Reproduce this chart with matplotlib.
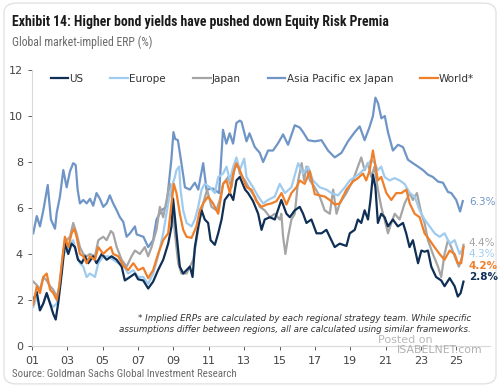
import matplotlib
matplotlib.use("Agg")
import matplotlib.pyplot as plt
from matplotlib.patches import FancyBboxPatch

# --- data ---
us_x = [2001.07, 2001.27, 2001.45, 2001.64, 2001.83, 2002.02, 2002.20, 2002.34, 2002.48, 2002.68,
        2002.86, 2003.05, 2003.24, 2003.43, 2003.60, 2003.81, 2004.00, 2004.18, 2004.46, 2004.65,
        2004.94, 2005.22, 2005.50, 2005.79, 2006.07, 2006.25, 2006.54, 2006.82, 2007.00, 2007.29,
        2007.57, 2007.85, 2008.13, 2008.42, 2008.70, 2008.89, 2008.98, 2009.17, 2009.36, 2009.55,
        2009.74, 2009.93, 2010.08, 2010.21, 2010.40, 2010.59, 2010.77, 2010.96, 2011.10, 2011.34,
        2011.53, 2011.72, 2011.90, 2012.19, 2012.38, 2012.56, 2012.75, 2013.05, 2013.22, 2013.50,
        2013.79, 2013.98, 2014.16, 2014.45, 2014.73, 2015.10, 2015.39, 2015.58, 2015.86, 2016.14,
        2016.33, 2016.52, 2016.80, 2017.09, 2017.37, 2017.65, 2017.93, 2018.12, 2018.40, 2018.78,
        2018.97, 2019.25, 2019.43, 2019.62, 2019.81, 2020.00, 2020.14, 2020.28, 2020.42, 2020.56,
        2020.75, 2020.94, 2021.13, 2021.41, 2021.69, 2021.98, 2022.16, 2022.35, 2022.54, 2022.83,
        2023.02, 2023.20, 2023.39, 2023.58, 2023.85, 2024.14, 2024.33, 2024.62, 2024.90, 2025.08,
        2025.24, 2025.40]
us_y = [2.0, 2.35, 1.55, 1.85, 2.3, 1.85, 1.4, 1.15, 1.85, 3.15,
        4.45, 4.0, 4.45, 4.3, 3.75, 3.6, 3.9, 3.6, 3.9, 3.6,
        4.0, 3.75, 3.9, 3.75, 3.45, 2.85, 3.0, 3.15, 2.9, 2.85,
        2.5, 2.8, 3.3, 3.75, 4.45, 5.2, 6.4, 4.9, 3.45, 3.15,
        3.3, 3.45, 3.0, 4.3, 5.2, 5.9, 5.5, 5.35, 4.6, 4.4,
        4.9, 5.5, 6.35, 6.65, 6.35, 7.2, 7.35, 6.8, 6.65, 6.3,
        5.75, 5.05, 5.5, 5.6, 5.5, 6.35, 5.75, 5.6, 5.9, 6.05,
        5.75, 5.35, 5.5, 4.9, 4.9, 5.05, 4.6, 4.3, 4.45, 4.35,
        4.9, 5.05, 5.5, 5.35, 5.9, 5.5, 6.35, 7.45, 6.9, 5.35,
        5.75, 5.6, 5.2, 5.5, 5.2, 5.35, 4.9, 4.3, 4.6, 3.6,
        4.15, 4.1, 4.15, 3.45, 3.0, 2.85, 2.6, 2.95, 2.6, 2.15,
        2.3, 2.8]

europe_x = [2001.07, 2001.27, 2001.45, 2001.64, 2001.83, 2002.02, 2002.20, 2002.40, 2002.58, 2002.77,
            2002.96, 2003.15, 2003.33, 2003.52, 2003.71, 2003.90, 2004.09, 2004.28, 2004.56, 2004.75,
            2005.03, 2005.31, 2005.59, 2005.88, 2006.16, 2006.44, 2006.73, 2007.00, 2007.29, 2007.57,
            2007.85, 2008.13, 2008.42, 2008.70, 2008.89, 2009.08, 2009.17, 2009.32, 2009.40, 2009.55,
            2009.74, 2010.02, 2010.21, 2010.40, 2010.59, 2010.77, 2011.06, 2011.34, 2011.53, 2011.81,
            2012.00, 2012.19, 2012.38, 2012.56, 2012.75, 2013.00, 2013.13, 2013.50, 2013.79, 2014.07,
            2014.35, 2014.73, 2015.01, 2015.30, 2015.67, 2016.05, 2016.33, 2016.61, 2016.89, 2017.27,
            2017.65, 2017.93, 2018.31, 2018.69, 2018.97, 2019.53, 2019.91, 2020.19, 2020.37, 2020.56,
            2020.75, 2020.94, 2021.22, 2021.51, 2021.79, 2022.07, 2022.36, 2022.64, 2022.92, 2023.20,
            2023.49, 2023.77, 2024.05, 2024.33, 2024.62, 2024.90, 2025.18, 2025.40]
europe_y = [1.7, 2.15, 1.55, 1.85, 2.3, 1.85, 1.7, 1.85, 2.85, 4.0,
            4.15, 4.45, 4.6, 4.0, 3.6, 3.45, 3.0, 3.15, 3.0, 3.6,
            3.9, 3.9, 3.75, 3.6, 3.5, 3.15, 3.3, 3.0, 3.0, 2.7,
            3.15, 3.9, 4.9, 6.2, 6.9, 7.35, 7.65, 7.8, 6.8, 5.9,
            5.35, 5.2, 5.5, 6.05, 6.8, 7.05, 6.9, 6.65, 7.35, 7.5,
            7.8, 7.2, 7.8, 8.2, 7.65, 8.15, 7.35, 6.9, 6.5, 6.2,
            6.35, 6.5, 7.05, 6.65, 6.9, 7.95, 7.5, 7.8, 7.2, 6.9,
            6.8, 6.65, 6.55, 6.9, 7.2, 7.5, 7.8, 8.1, 7.95, 7.65,
            7.8, 7.35, 7.2, 7.3, 7.2, 7.05, 6.65, 6.5, 5.9, 5.5,
            5.2, 4.9, 4.75, 4.9, 4.45, 4.6, 4.0, 4.3]

japan_x = [2001.07, 2001.27, 2001.45, 2001.64, 2001.83, 2002.02, 2002.20, 2002.40, 2002.58, 2002.77,
           2002.96, 2003.15, 2003.33, 2003.52, 2003.71, 2003.90, 2004.09, 2004.28, 2004.56, 2004.75,
           2005.03, 2005.22, 2005.46, 2005.59, 2005.79, 2006.07, 2006.35, 2006.63, 2006.82, 2007.10,
           2007.38, 2007.57, 2007.76, 2008.04, 2008.23, 2008.42, 2008.61, 2008.80, 2008.95, 2009.08,
           2009.27, 2009.45, 2009.74, 2009.93, 2010.12, 2010.30, 2010.49, 2010.68, 2010.90, 2011.15,
           2011.43, 2011.62, 2011.81, 2012.09, 2012.28, 2012.47, 2012.66, 2012.75, 2013.04, 2013.32,
           2013.60, 2013.88, 2014.16, 2014.45, 2014.73, 2015.01, 2015.10, 2015.20, 2015.33, 2015.48,
           2015.67, 2015.86, 2016.05, 2016.25, 2016.39, 2016.52, 2016.71, 2016.99, 2017.27, 2017.55,
           2017.84, 2018.03, 2018.22, 2018.40, 2018.78, 2019.15, 2019.43, 2019.62, 2019.81, 2019.99,
           2020.19, 2020.37, 2020.56, 2020.75, 2020.94, 2021.13, 2021.32, 2021.51, 2021.79, 2022.07,
           2022.36, 2022.54, 2022.77, 2023.02, 2023.20, 2023.39, 2023.67, 2023.96, 2024.14, 2024.33,
           2024.52, 2024.71, 2024.90, 2025.14, 2025.33, 2025.40]
japan_y = [2.8, 2.65, 2.45, 3.0, 2.85, 2.6, 2.45, 2.15, 2.6, 4.15,
           4.6, 4.75, 5.35, 4.9, 4.3, 4.0, 3.9, 4.0, 3.9, 4.6,
           4.75, 4.6, 5.0, 4.9, 4.3, 3.75, 3.45, 3.9, 4.15, 4.0,
           4.3, 3.9, 4.3, 5.05, 6.05, 5.6, 6.35, 7.05, 6.35, 4.9,
           3.6, 3.15, 3.15, 3.45, 3.75, 4.6, 5.5, 6.2, 6.8, 6.05,
           5.9, 6.35, 7.05, 7.35, 6.9, 7.8, 7.8, 7.5, 7.2, 6.8,
           6.5, 6.05, 5.9, 5.6, 5.75, 5.5, 5.75, 4.75, 4.0, 4.75,
           5.5, 5.75, 7.2, 7.95, 7.2, 7.8, 7.2, 6.9, 6.5, 5.9,
           5.75, 6.8, 5.75, 6.2, 6.65, 7.2, 7.8, 8.2, 7.65, 7.95,
           7.35, 7.8, 6.8, 6.05, 5.5, 4.9, 5.35, 5.75, 5.5, 6.2,
           6.65, 6.35, 6.65, 5.75, 5.35, 4.6, 4.0, 3.45, 3.0, 4.0,
           4.6, 4.3, 3.9, 3.45, 3.9, 4.4]

apxj_x = [2001.07, 2001.27, 2001.45, 2001.64, 2001.89, 2002.07, 2002.30, 2002.40, 2002.58, 2002.77,
          2002.96, 2003.15, 2003.33, 2003.47, 2003.58, 2003.71, 2003.90, 2004.09, 2004.28, 2004.46,
          2004.65, 2004.84, 2005.03, 2005.22, 2005.40, 2005.59, 2005.79, 2005.97, 2006.16, 2006.35,
          2006.54, 2006.82, 2006.92, 2007.30, 2007.57, 2007.85, 2008.04, 2008.32, 2008.60, 2008.88,
          2009.00, 2009.10, 2009.25, 2009.45, 2009.65, 2009.93, 2010.21, 2010.40, 2010.68, 2010.87,
          2011.23, 2011.58, 2011.80, 2011.99, 2012.18, 2012.37, 2012.56, 2012.75, 2012.85, 2013.13,
          2013.30, 2013.60, 2013.88, 2014.07, 2014.35, 2014.63, 2014.90, 2015.20, 2015.48, 2015.86,
          2016.14, 2016.33, 2016.61, 2016.99, 2017.37, 2017.74, 2018.12, 2018.50, 2018.87, 2019.25,
          2019.53, 2019.81, 2020.10, 2020.28, 2020.42, 2020.57, 2020.76, 2020.95, 2021.13, 2021.41,
          2021.70, 2021.98, 2022.26, 2022.54, 2022.83, 2023.11, 2023.39, 2023.67, 2023.96, 2024.24,
          2024.52, 2024.71, 2024.99, 2025.21, 2025.36]
apxj_y = [4.9, 5.65, 5.2, 5.9, 7.0, 5.5, 5.1, 5.8, 6.5, 7.65,
          6.9, 7.6, 7.95, 7.87, 6.8, 6.2, 6.35, 6.2, 6.4, 6.1,
          6.65, 6.4, 6.05, 6.2, 6.55, 6.2, 5.9, 5.6, 5.4, 4.75,
          4.9, 5.2, 4.85, 4.75, 4.3, 4.6, 5.5, 5.9, 6.05, 8.1,
          9.3, 9.0, 8.95, 7.95, 6.9, 6.8, 7.1, 6.8, 7.95, 6.8,
          6.85, 6.65, 9.4, 8.8, 9.25, 8.8, 9.7, 9.8, 9.75, 8.9,
          9.25, 8.65, 8.4, 8.0, 8.5, 8.5, 8.8, 9.2, 8.75, 9.6,
          9.5, 9.3, 8.95, 8.9, 8.95, 8.5, 8.2, 8.4, 8.9, 9.3,
          9.55, 8.95, 9.55, 10.0, 10.8, 10.55, 9.9, 10.0, 9.3, 8.5,
          8.75, 8.65, 8.1, 7.95, 7.8, 7.65, 7.45, 7.35, 7.15, 7.1,
          6.7, 6.65, 6.35, 5.85, 6.3]

world_x = [2001.07, 2001.27, 2001.45, 2001.64, 2001.83, 2002.02, 2002.20, 2002.40, 2002.54, 2002.71,
           2002.86, 2003.05, 2003.24, 2003.39, 2003.52, 2003.71, 2003.90, 2004.09, 2004.28, 2004.56,
           2004.75, 2005.03, 2005.22, 2005.46, 2005.59, 2005.88, 2006.16, 2006.44, 2006.73, 2007.00,
           2007.29, 2007.57, 2007.85, 2008.13, 2008.42, 2008.70, 2008.89, 2009.02, 2009.17, 2009.36,
           2009.55, 2009.74, 2010.02, 2010.30, 2010.49, 2010.68, 2010.96, 2011.24, 2011.53, 2011.81,
           2012.00, 2012.19, 2012.38, 2012.56, 2012.75, 2013.13, 2013.41, 2013.69, 2013.98, 2014.26,
           2014.54, 2014.83, 2015.11, 2015.39, 2015.67, 2015.95, 2016.14, 2016.42, 2016.71, 2016.99,
           2017.27, 2017.55, 2017.83, 2018.12, 2018.40, 2018.78, 2019.15, 2019.43, 2019.72, 2019.90,
           2020.10, 2020.28, 2020.43, 2020.56, 2020.75, 2021.04, 2021.32, 2021.60, 2021.89, 2022.17,
           2022.36, 2022.64, 2022.92, 2023.20, 2023.49, 2023.76, 2024.05, 2024.33, 2024.62, 2024.90,
           2025.08, 2025.27, 2025.40]
world_y = [1.8, 2.6, 2.3, 3.0, 3.15, 2.45, 2.3, 2.0, 2.6, 3.75,
           4.75, 4.3, 4.9, 5.1, 4.75, 4.0, 3.9, 3.6, 3.9, 3.75,
           4.3, 4.0, 4.15, 4.3, 4.0, 3.9, 3.5, 3.3, 3.6, 3.3,
           3.4, 2.95, 3.3, 4.0, 4.6, 4.9, 6.2, 7.05, 6.65, 5.75,
           5.05, 4.75, 4.7, 5.2, 5.9, 6.2, 6.5, 6.2, 5.75, 7.05,
           7.2, 6.65, 7.5, 7.95, 7.65, 6.9, 6.8, 6.3, 6.05, 6.15,
           6.2, 6.3, 6.65, 6.15, 6.65, 6.9, 7.2, 7.05, 7.6, 6.6,
           6.55, 6.5, 6.35, 6.15, 6.2, 6.8, 7.15, 7.3, 7.5, 7.2,
           7.65, 8.5, 7.8, 7.2, 7.35, 6.65, 6.35, 6.65, 6.65, 6.8,
           6.2, 5.75, 5.6, 4.9, 4.6, 4.3, 4.0, 3.75, 4.15, 4.0,
           3.6, 3.6, 4.3]

series_names = ["US", "Europe", "Japan", "Asia Pacific ex Japan", "World*"]
end_labels = ["2.8%", "4.3%", "4.4%", "6.3%", "4.2%"]
year_ticks = list(range(2001, 2026, 2))
year_labels = [f"{y % 100:02d}" for y in year_ticks]

colors = ["#0f2f55", "#9fcbef", "#a5a5a5", "#6f95c6", "#f07f2a"]

fig = plt.figure(figsize=(5.0, 3.87), dpi=100)

# rounded card border
fig.patches.append(FancyBboxPatch((0.008, 0.008), 0.984, 0.984,
                                  boxstyle="round,pad=0,rounding_size=0.025",
                                  transform=fig.transFigure, fc="white",
                                  ec="#e3e3e3", lw=1.0, zorder=-10))

narrow = ["Roboto Condensed", "Fira Sans Condensed", "Archivo Narrow", "DejaVu Sans"]
fig.text(0.024, 0.943, "Exhibit 14: Higher bond yields have pushed down Equity Risk Premia",
         fontsize=9.9, fontweight="bold", family=narrow, color="#1a1a1a", va="center")
fig.text(0.024, 0.890, "Global market-implied ERP (%)", fontsize=8.5, family=narrow,
         color="#6b6b6b", va="center")
fig.text(0.024, 0.020, "Source: Goldman Sachs Global Investment Research", fontsize=7.8,
         family=narrow, color="#6b6b6b", va="bottom")

ax = fig.add_axes([0.064, 0.106, 0.916, 0.713])

xs = [us_x, europe_x, japan_x, apxj_x, world_x]
ys = [us_y, europe_y, japan_y, apxj_y, world_y]
# draw order: APxJ behind, then the rest, World on top
for i in [3, 2, 1, 0, 4]:
    ax.plot(xs[i], ys[i], color=colors[i], lw=1.6, label=series_names[i], solid_joinstyle="round")

ax.set_xlim(2001, 2026.9)
ax.set_ylim(0, 12)
ax.set_xticks(year_ticks)
ax.set_xticklabels(year_labels)
ax.set_yticks(range(0, 13, 2))
ax.tick_params(axis="both", labelsize=8, colors="#444444", length=3, width=0.6)
ax.tick_params(axis="x", pad=4)
for s in ["top", "right"]:
    ax.spines[s].set_visible(False)
for s in ["left", "bottom"]:
    ax.spines[s].set_color("#d9d9d9")
    ax.spines[s].set_linewidth(0.8)

handles, labels = ax.get_legend_handles_labels()
order = [labels.index(n) for n in series_names]
ax.legend([handles[i] for i in order], [labels[i] for i in order], ncol=5,
          loc="upper left", bbox_to_anchor=(0.02, 1.02), frameon=False, fontsize=7.5,
          handlelength=1.7, handletextpad=0.1, columnspacing=2.6, labelcolor="#333333")

# end-of-series labels
label_y = [3.0, 4.0, 4.48, 6.26, 3.48]
label_bold = [True, False, False, False, True]
for i in range(5):
    ax.text(2025.7, label_y[i], end_labels[i], color=colors[i], fontsize=7.5,
            fontweight="bold" if label_bold[i] else "normal", va="center", ha="left")

ax.text(0.958, 0.080, "* Implied ERPs are calculated by each regional strategy team. While specific\n"
        "assumptions differ between regions, all are calculated using similar frameworks.",
        transform=ax.transAxes, ha="right", va="center", fontsize=6.3, style="italic",
        color="#333333", linespacing=1.2)

# watermark
fig.text(0.756, 0.121, "Posted on", fontsize=8, color="#b8b8b8", ha="left", va="center")
fig.text(0.794, 0.095, "ISABELNET.com", fontsize=7.8, color="#b0b0b0", ha="left", va="center")

fig.savefig("out.png", dpi=100)
